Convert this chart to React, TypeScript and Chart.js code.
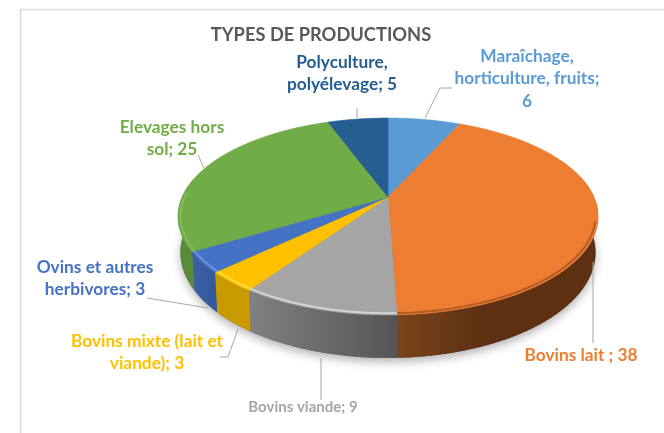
import React, { useEffect, useRef } from "react";
import { Chart, registerables } from "chart.js";

Chart.register(...registerables);

const categories = [
  "Maraîchage, horticulture, fruits",
  "Bovins lait ",
  "Bovins viande",
  "Bovins mixte (lait et viande)",
  "Ovins et autres herbivores",
  "Elevages hors sol",
  "Polyculture, polyélevage",
];
const values = [6, 38, 9, 3, 3, 25, 5];
const topColors = ["#5b9bd5", "#ed7d31", "#a5a5a5", "#ffc000", "#4472c4", "#70ad47", "#255e91"];
const wallNear = ["#46779f", "#7a451c", "#555555", "#c99a00", "#35599a", "#588a37", "#1d4a72"];
const wallFar = ["#46779f", "#5e3113", "#808080", "#c99a00", "#3a62a8", "#588a37", "#1d4a72"];
const rimColors = ["#7db3e2", "#a4551f", "#dedede", "#ffe14d", "#6f9be6", "#85bd5e", "#3b7cb5"];
const titleText = "TYPES DE PRODUCTIONS";

// label wrapping, colour, placement
const labelLines = [
  ["Maraîchage,", "horticulture, fruits;", "6"],
  ["Bovins lait ; 38"],
  ["Bovins viande; 9"],
  ["Bovins mixte (lait et", "viande); 3"],
  ["Ovins et autres", "herbivores; 3"],
  ["Elevages hors", "sol; 25"],
  ["Polyculture,", "polyélevage; 5"],
];
const labelCenterX = [527, 581, 303, 147, 95, 172, 342];
const labelFirstY = [56, 355, 407, 341, 267, 127, 62];
const labelSizes = [17.3, 17.3, 15, 17.3, 17.3, 17.3, 17.3];
const labelLineGap = 22.5;
const leaderPaths = [
  [[425, 118], [440, 88], [452, 88]],
  [[593, 262], [593, 343]],
  [[321, 358], [321, 400]],
  [[238, 329], [228, 357], [220, 357]],
  [[208, 308], [147, 298]],
  [[204, 168], [198, 155]],
  [[357, 118], [357, 108]],
];

// perspective of the tilted disc
const CX = 388, CY = 197, A = 205.9, B = 94.6, K = 0.198, DEPTH = 34.5, BOTTOM_SHRINK = 0.988;
const project = (a: number, f: number, low: boolean) => {
  const X = Math.cos(a) * f, Y = Math.sin(a) * f, w = 1 - K * Y;
  const sx = low ? BOTTOM_SHRINK : 1;
  return [CX + (A * X * sx) / w, CY + (B * Y + (low ? DEPTH : 0)) / w];
};
const rim = (s: number, e: number, low: boolean, f = 1) => {
  const pts: number[][] = [];
  const n = Math.max(2, Math.ceil(Math.abs(e - s) / 0.01));
  for (let i = 0; i <= n; i++) pts.push(project(s + ((e - s) * i) / n, f, low));
  return pts;
};
const trace = (ctx: CanvasRenderingContext2D, pts: number[][], move = true) => {
  pts.forEach((p, i) => (i === 0 && move ? ctx.moveTo(p[0], p[1]) : ctx.lineTo(p[0], p[1])));
};

const tiltedPie = {
  id: "tiltedPie",
  afterDatasetsDraw(chart: any) {
    const { ctx } = chart;
    const arcs = chart.getDatasetMeta(0).data;
    ctx.save();
    ctx.lineJoin = "round";

    // soft shadow under the disc
    ctx.save();
    ctx.shadowColor = "rgba(0,0,0,0.3)";
    ctx.shadowBlur = 10;
    ctx.shadowOffsetY = 4;
    ctx.fillStyle = "#777";
    ctx.beginPath();
    trace(ctx, rim(0, Math.PI * 2, true));
    ctx.closePath();
    ctx.fill();
    ctx.restore();

    // visible walls: the front half of the rim
    const frontS = -0.2, frontE = Math.PI + 0.2;
    arcs.forEach((arc: any, i: number) => {
      const { startAngle, endAngle } = arc.getProps(["startAngle", "endAngle"], true);
      const s0 = Math.max(startAngle, frontS), e0 = Math.min(endAngle, frontE);
      if (e0 <= s0) return;
      const top = rim(s0, e0, false), low = rim(s0, e0, true);
      const x0 = Math.min(...top.map((p) => p[0])), x1 = Math.max(...top.map((p) => p[0]));
      const g = ctx.createLinearGradient(x0, 0, x1, 0);
      if (i === 1) {
        g.addColorStop(0, wallNear[i]);
        g.addColorStop(0.4, wallFar[i]);
        g.addColorStop(1, wallFar[i]);
      } else {
        g.addColorStop(0, wallFar[i]);
        g.addColorStop(1, wallNear[i]);
      }
      ctx.fillStyle = g;
      ctx.beginPath();
      trace(ctx, top);
      trace(ctx, low.slice().reverse(), false);
      ctx.closePath();
      ctx.fill();
    });

    // top faces
    arcs.forEach((arc: any, i: number) => {
      const { startAngle, endAngle } = arc.getProps(["startAngle", "endAngle"], true);
      ctx.fillStyle = topColors[i];
      ctx.strokeStyle = topColors[i];
      ctx.lineWidth = 0.6;
      ctx.beginPath();
      ctx.moveTo(CX, CY);
      trace(ctx, rim(startAngle, endAngle, false), false);
      ctx.closePath();
      ctx.fill();
      ctx.stroke();
    });

    // bevelled rim
    arcs.forEach((arc: any, i: number) => {
      const { startAngle, endAngle } = arc.getProps(["startAngle", "endAngle"], true);
      const s0 = Math.max(startAngle, 0.25), e0 = Math.min(endAngle, Math.PI + 0.05);
      if (e0 <= s0) return;
      ctx.strokeStyle = rimColors[i];
      ctx.globalAlpha = 0.8;
      ctx.lineWidth = 2;
      ctx.filter = "blur(0.7px)";
      ctx.beginPath();
      trace(ctx, rim(s0, e0, false, 0.988));
      ctx.stroke();
      ctx.filter = "none";
      ctx.globalAlpha = 1;
    });

    // leader lines
    ctx.strokeStyle = "#a6a6a6";
    ctx.lineWidth = 1;
    leaderPaths.forEach((path) => {
      ctx.beginPath();
      trace(ctx, path);
      ctx.stroke();
    });

    // data labels
    ctx.textAlign = "center";
    ctx.textBaseline = "middle";
    labelLines.forEach((lines, i) => {
      ctx.font = `bold ${labelSizes[i]}px Lato`;
      ctx.fillStyle = topColors[i];
      lines.forEach((line, j) => {
        ctx.fillText(line, labelCenterX[i], labelFirstY[i] + j * labelLineGap);
      });
    });

    // chart frame
    ctx.strokeStyle = "#d9d9d9";
    ctx.lineWidth = 1.5;
    ctx.beginPath();
    ctx.moveTo(20.5, 433);
    ctx.lineTo(20.5, 9.5);
    ctx.lineTo(664, 9.5);
    ctx.stroke();
    ctx.restore();
  },
};

export default function App() {
  const ref = useRef<HTMLCanvasElement>(null);
  useEffect(() => {
    if (!ref.current) return;
    const chart = new Chart(ref.current, {
      type: "pie",
      data: {
        labels: categories,
        datasets: [{ data: values, backgroundColor: "rgba(0,0,0,0)", borderWidth: 0 }],
      },
      options: {
        responsive: false,
        animation: false,
        layout: { padding: { right: 22 } },
        plugins: {
          legend: { display: false },
          tooltip: { enabled: false },
          title: {
            display: true,
            text: titleText,
            color: "#595959",
            font: { family: "Lato", size: 18.3, weight: "bold" },
            padding: { top: 24, bottom: 0 },
          },
        },
      },
      plugins: [tiltedPie],
    });
    return () => chart.destroy();
  }, []);
  return (
    <div style={{ position: "absolute", left: 0, top: 0, width: 664, height: 433, background: "#fff" }}>
      <canvas ref={ref} width={664} height={433} style={{ display: "block", filter: "blur(0.35px)" }} />
    </div>
  );
}
